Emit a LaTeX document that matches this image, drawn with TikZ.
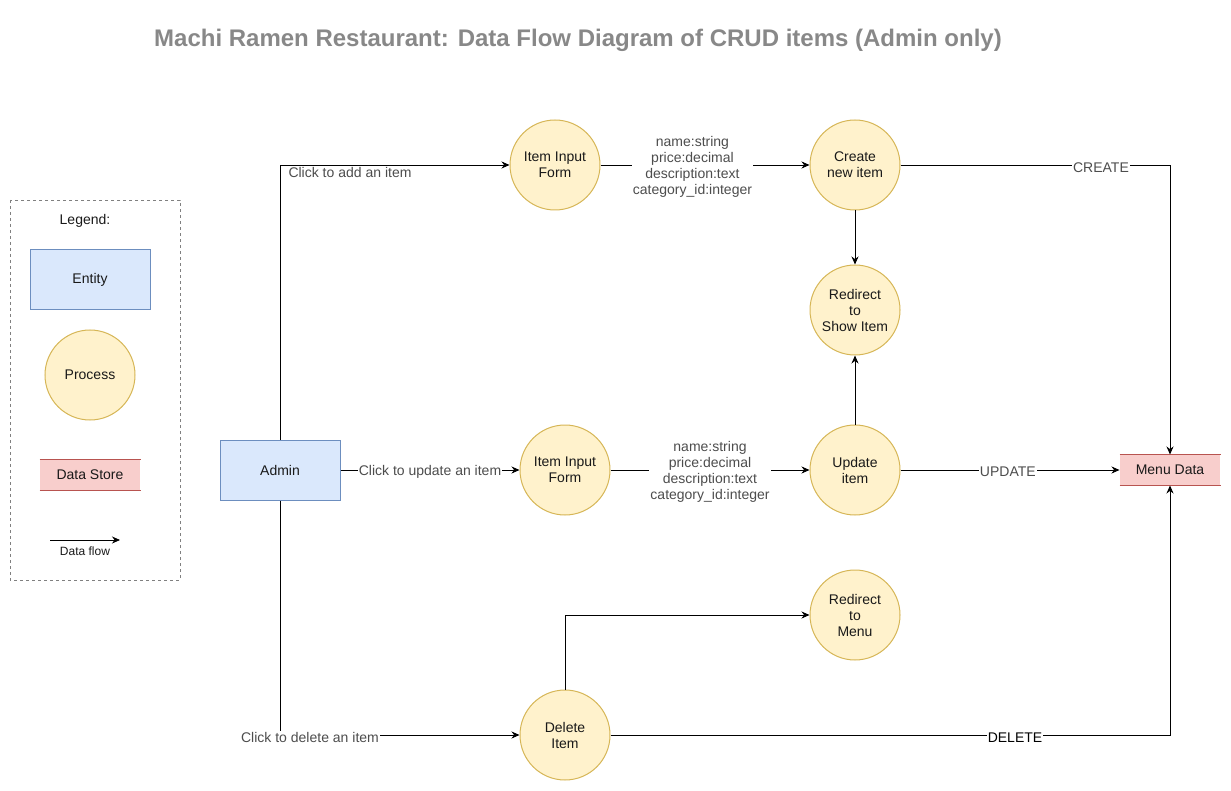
\documentclass[tikz,border=0pt]{standalone}
\usepackage{fontspec}
\setmainfont{Liberation Sans}
\usetikzlibrary{arrows.meta, positioning}
\definecolor{entfill}{HTML}{DAE8FC}
\definecolor{entline}{HTML}{6C8EBF}
\definecolor{procfill}{HTML}{FFF2CC}
\definecolor{procline}{HTML}{D6B656}
\definecolor{storefill}{HTML}{F8CECC}
\definecolor{storeline}{HTML}{B85450}
\definecolor{labelgray}{HTML}{4D4D4D}
\definecolor{titlegray}{HTML}{888888}

\begin{document}
\begin{tikzpicture}[x=1pt, y=-1pt, line width=1pt,
      every node/.style={font=\fontsize{14}{16}\selectfont, align=center, text=black!90},
      entity/.style={rectangle, draw=entline, fill=entfill, minimum width=120pt, minimum height=60pt},
      process/.style={circle, draw=procline, fill=procfill, minimum size=90pt, inner sep=0pt},
      store/.style={rectangle, fill=storefill, minimum width=100pt, minimum height=30pt},
      flow/.style={-{Stealth[length=8pt, width=7pt]}, line width=0.8pt},
      lbl/.style={fill=white, text=labelgray, inner sep=1pt, yshift=-1.5pt}]

      \useasboundingbox (0,0) rectangle (1231,791);

      % Title
      \node[font=\fontsize{24}{28}\selectfont\bfseries, text=titlegray] (title) at (578,40)
        {Machi Ramen Restaurant: Data Flow Diagram of CRUD items (Admin only)};

      % Legend
      \draw[gray, dashed, line width=0.8pt] (10,200) rectangle (180,580);
      \node (leg) at (85,221) {Legend:};
      \node[entity] (legent) at (90,280) {Entity};
      \node[process] (legproc) at (90,375) {Process};
      \node[store] (legstore) at (90,475) {Data Store};
      \draw[storeline] (legstore.north west) -- (legstore.north east);
      \draw[storeline] (legstore.south west) -- (legstore.south east);
      \coordinate (legA) at (50,540);
      \coordinate (legB) at (120,540);
      \draw[flow] (legA) -- (legB);
      \node[font=\fontsize{12}{14}\selectfont] (legflow) at (85,551) {Data flow};

      % Blocks
      \node[entity] (admin) at (280,470) {Admin};
      \node[process] (form1) at (555,165) {Item Input\\Form};
      \node[process] (create) at (855,165) {Create\\new item};
      \node[process] (show) at (855,310) {Redirect\\to\\Show Item};
      \node[process] (form2) at (565,470) {Item Input\\Form};
      \node[process] (update) at (855,470) {Update\\item};
      \node[process] (menu) at (855,615) {Redirect\\to\\Menu};
      \node[process] (delete) at (565,735) {Delete\\Item};
      \node[store] (data) at (1170,470) {Menu Data};
      \draw[storeline] (data.north west) -- (data.north east);
      \draw[storeline] (data.south west) -- (data.south east);

      % Admin flows
      \draw[flow] (admin.north) |- (form1.west);
      \node[lbl] at (350,171) {Click to add an item};
      \draw[flow] (admin.east) -- (form2.west)
        node[lbl, pos=0.5] {Click to update an item};
      \draw[flow] (admin.south) |- (delete.west);
      \node[lbl] at (310,736) {Click to delete an item};

      % Item data
      \draw[flow] (form1.east) -- (create.west)
        node[lbl, pos=0.44] {name:string\\price:decimal\\description:text\\category\_id:integer};
      \draw[flow] (form2.east) -- (update.west)
        node[lbl, pos=0.5] {name:string\\price:decimal\\description:text\\category\_id:integer};

      % Redirects
      \draw[flow] (create.south) -- (show.north);
      \draw[flow] (update.north) -- (show.south);
      \draw[flow] (delete.north) |- (menu.west);

      % Store access
      \draw[flow] (create.east) -| (data.north);
      \node[lbl] at (1101,166) {CREATE};
      \draw[flow] (update.east) -- (data.west)
        node[lbl, pos=0.49] {UPDATE};
      \draw[flow] (delete.east) -| (data.south);
      \node[lbl, text=black] at (1015,736) {DELETE};
    \end{tikzpicture}
\end{document}
